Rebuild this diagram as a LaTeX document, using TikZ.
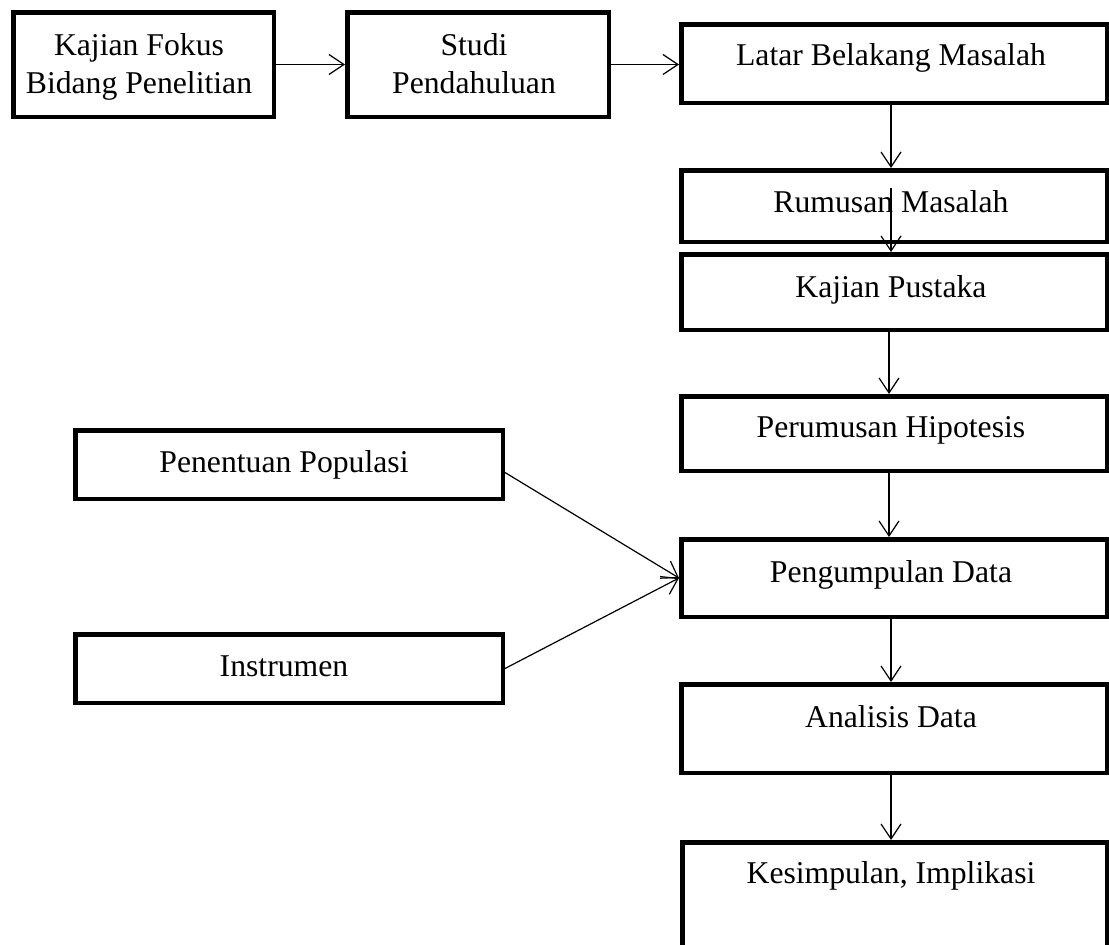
\documentclass[tikz,border=0pt]{standalone}
\usepackage{fontspec}
\setmainfont{Liberation Serif}
\usetikzlibrary{arrows.meta}
\newcommand\mkbox[5]{%
  \pgfmathsetmacro\myBW{#4-#2-4.5}%
  \pgfmathsetmacro\myBH{#5-#3-4.5}%
  \node[boxst, minimum width=\myBW pt, minimum height=\myBH pt] (#1) at ({(#2+#4)/2},{(#3+#5)/2}) {};%
}
\tikzset{
  boxst/.style={draw=black, line width=4.5pt, rectangle, inner sep=0pt, fill=white},
  txt/.style={inner sep=0pt, anchor=base, font=\fontsize{31.7}{38}\selectfont},
  conn/.style={draw=black, line width=1.2pt, -{Straight Barb[length=15pt,width=20pt,line width=1.2pt]}},
  plain/.style={draw=black, line width=1.2pt}
}
\begin{document}
\begin{tikzpicture}[x=1pt,y=-1pt]
\clip (0,0) rectangle (1109,945);
\fill[white] (0,0) rectangle (1109,945);
% boxes
\mkbox{b1}{11}{10}{276}{119}
\mkbox{b2}{345}{10}{611}{119}
\mkbox{lat}{679}{22}{1109}{105}
\mkbox{rum}{679}{168}{1109}{244}
\mkbox{kp}{679}{252}{1109}{332}
\mkbox{per}{679}{394}{1109}{473}
\mkbox{kum}{679}{537}{1109}{619}
\mkbox{ana}{679}{682}{1109}{775}
\mkbox{kes}{680}{840}{1109}{970}
\mkbox{popu}{73}{428}{505}{501}
\mkbox{ins}{73}{632}{505}{705}
% texts
\node[txt] (t1a) at (139,55) {Kajian Fokus};
\node[txt] (t1b) at (139,93) {Bidang Penelitian};
\node[txt] (t2a) at (474,55) {Studi};
\node[txt] (t2b) at (474,93) {Pendahuluan};
\node[txt] (tlat) at (891,65) {Latar Belakang Masalah};
\node[txt] (trum) at (891,212) {Rumusan Masalah};
\node[txt] (tkp) at (891,297) {Kajian Pustaka};
\node[txt] (tper) at (891,437) {Perumusan Hipotesis};
\node[txt] (tkum) at (891,582) {Pengumpulan Data};
\node[txt] (tana) at (891,727) {Analisis Data};
\node[txt] (tkes) at (891,883) {Kesimpulan, Implikasi};
\node[txt] (tpop) at (284,472) {Penentuan Populasi};
\node[txt] (tins) at (284,676) {Instrumen};
% connectors
\coordinate (colx) at (891,0);
\coordinate (rin) at (891,188);
\draw[conn] (b1.east) -- (b2.west);
\draw[conn] (b2.east) -- (b2.east -| lat.west);
\draw[conn] (colx |- lat.south) -- (colx |- rum.north);
\draw[conn] (rin) -- (colx |- kp.north);
\draw[conn] ([xshift=-2pt]colx |- kp.south) -- ([xshift=-2pt]colx |- per.north);
\draw[conn] ([xshift=-2pt]colx |- per.south) -- ([xshift=-2pt]colx |- kum.north);
\draw[conn] (colx |- kum.south) -- (colx |- ana.north);
\draw[conn] (colx |- ana.south) -- (colx |- kes.north);
\draw[conn] ([yshift=-8pt]popu.east) -- (kum.west);
\draw[conn] (ins.east) -- (kum.west);
\end{tikzpicture}
\end{document}
